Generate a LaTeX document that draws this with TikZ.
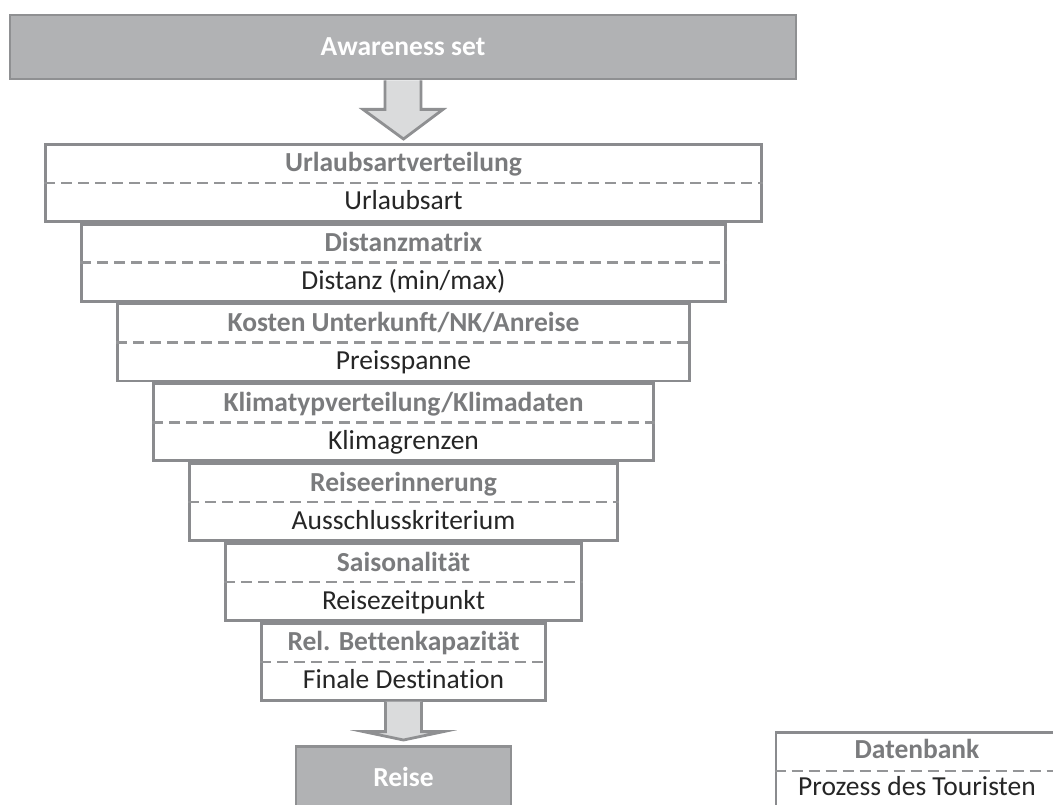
\documentclass[tikz,border=0pt]{standalone}
\usepackage{fontspec}
\setmainfont{Carlito}[Ligatures=NoCommon]
\usepackage{tikz}
\usetikzlibrary{positioning,calc}
\definecolor{hdfill}{RGB}{177,178,180}
\definecolor{hddraw}{RGB}{143,144,146}
\definecolor{stdraw}{RGB}{138,139,142}
\definecolor{arfill}{RGB}{218,219,220}
\definecolor{dbgray}{RGB}{122,123,125}
\definecolor{dashgray}{RGB}{148,149,151}

\tikzset{
  headbox/.style={draw=hddraw, fill=hdfill, line width=2.8pt, text=white,
    font=\fontsize{27.5}{31}\selectfont\bfseries, inner sep=0pt, minimum height=64pt},
  stagebox/.style={draw=stdraw, fill=white, line width=2.8pt, inner sep=0pt,
    minimum height=77pt},
  sepline/.style={draw=dashgray, line width=2.4pt, dash pattern=on 11pt off 6pt},
  dbtext/.style={anchor=base, text=dbgray, font=\fontsize{27.5}{31}\selectfont\bfseries, inner sep=0pt},
  proctext/.style={anchor=base, text=black!85, font=\fontsize{27.5}{31}\selectfont, inner sep=0pt},
  bigarrow/.style={draw=hddraw, fill=arfill, line width=2.8pt, line join=miter}
}

\begin{document}
\begin{tikzpicture}[x=1pt, y=-1pt]
    \clip (0,0) rectangle (1053,805);
    \fill[white] (0,0) rectangle (1053,805);

    % Kopf
    \node[headbox, minimum width=786pt] (aw) at (403,47) {Awareness set};

    % Filterstufen
    \node[stagebox, minimum width=716pt, anchor=north] (u1) at (403.5,143) {};
    \node[stagebox, minimum width=644pt, below=0pt of u1] (u2) {};
    \node[stagebox, minimum width=572pt, below=0pt of u2] (u3) {};
    \node[stagebox, minimum width=500pt, below=0pt of u3] (u4) {};
    \node[stagebox, minimum width=428pt, below=0pt of u4] (u5) {};
    \node[stagebox, minimum width=356pt, below=0pt of u5] (u6) {};
    \node[stagebox, minimum width=284pt, below=0pt of u6] (u7) {};

    \draw[sepline] (u1.west) -- (u1.east);
    \draw[sepline] (u2.west) -- (u2.east);
    \draw[sepline] (u3.west) -- (u3.east);
    \draw[sepline] (u4.west) -- (u4.east);
    \draw[sepline] (u5.west) -- (u5.east);
    \draw[sepline] (u6.west) -- (u6.east);
    \draw[sepline] (u7.west) -- (u7.east);

    \node[dbtext] (u1db) at ($(u1.north)+(0,29)$) {Urlaubsartverteilung};
    \node[proctext] (u1pr) at ($(u1.north)+(0,67)$) {Urlaubsart};
    \node[dbtext] (u2db) at ($(u2.north)+(0,29)$) {Distanzmatrix};
    \node[proctext] (u2pr) at ($(u2.north)+(0,67)$) {Distanz (min/max)};
    \node[dbtext] (u3db) at ($(u3.north)+(0,29)$) {Kosten Unterkunft/NK/Anreise};
    \node[proctext] (u3pr) at ($(u3.north)+(0,67)$) {Preisspanne};
    \node[dbtext] (u4db) at ($(u4.north)+(0,29)$) {Klimatypverteilung/Klimadaten};
    \node[proctext] (u4pr) at ($(u4.north)+(0,67)$) {Klimagrenzen};
    \node[dbtext] (u5db) at ($(u5.north)+(0,29)$) {Reiseerinnerung};
    \node[proctext] (u5pr) at ($(u5.north)+(0,67)$) {Ausschlusskriterium};
    \node[dbtext] (u6db) at ($(u6.north)+(0,29)$) {Saisonalität};
    \node[proctext] (u6pr) at ($(u6.north)+(0,67)$) {Reisezeitpunkt};
    \node[dbtext] (u7db) at ($(u7.north)+(0,29)$) {Rel. Bettenkapazität};
    \node[proctext] (u7pr) at ($(u7.north)+(0,67)$) {Finale Destination};

    % Ziel
    \node[headbox, minimum width=215pt, anchor=north] (reise) at (403.5,745) {};
    \node[text=white, font=\fontsize{27.5}{31}\selectfont\bfseries, inner sep=0pt] (reisetxt) at (403.5,777) {Reise};

    % Pfeile
    \draw[bigarrow] ($(aw.south)+(-18,0)$) -- ($(aw.south)+(-18,29)$) -- ($(aw.south)+(-40,29)$)
        -- ($(u1.north)+(0,-4)$) -- ($(aw.south)+(40,29)$) -- ($(aw.south)+(18,29)$) -- ($(aw.south)+(18,0)$);
    \draw[bigarrow] ($(u7.south)+(-18,0)$) -- ($(u7.south)+(-18,30)$) -- ($(u7.south)+(-40,30)$)
        -- ($(reise.north)+(0,-5)$) -- ($(u7.south)+(40,30)$) -- ($(u7.south)+(18,30)$) -- ($(u7.south)+(18,0)$);

    % Legende
    \node[stagebox, minimum width=282pt, anchor=north] (leg) at (917,731) {};
    \draw[sepline] (leg.west) -- (leg.east);
    \node[dbtext] (legdb) at ($(leg.north)+(0,27)$) {Datenbank};
    \node[proctext] (legpr) at ($(leg.north)+(0,64)$) {Prozess des Touristen};
\end{tikzpicture}
\end{document}
